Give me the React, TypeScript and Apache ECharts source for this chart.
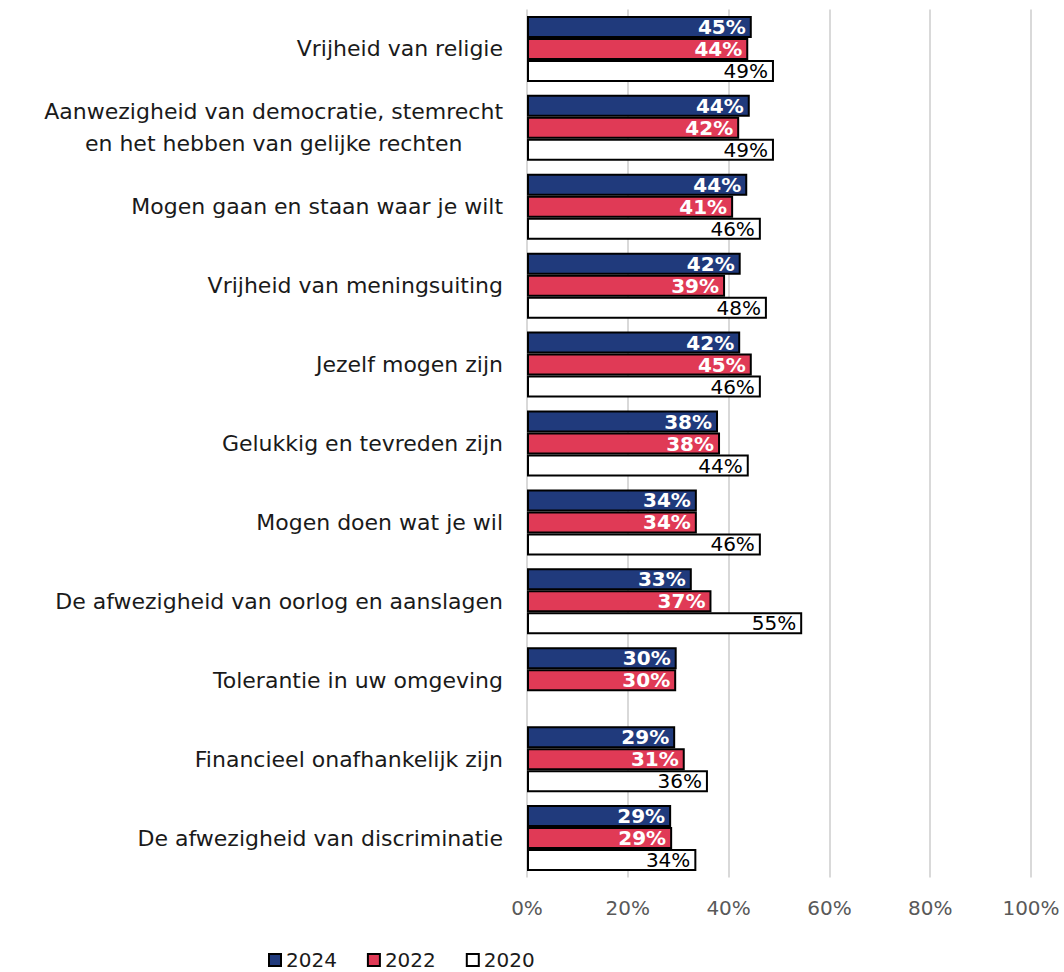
import React, { useEffect, useRef } from "react";
import * as echarts from "echarts";

const categories = [
  "Vrijheid van religie",
  "Aanwezigheid van democratie, stemrecht\nen het hebben van gelijke rechten",
  "Mogen gaan en staan waar je wilt",
  "Vrijheid van meningsuiting",
  "Jezelf mogen zijn",
  "Gelukkig en tevreden zijn",
  "Mogen doen wat je wil",
  "De afwezigheid van oorlog en aanslagen",
  "Tolerantie in uw omgeving",
  "Financieel onafhankelijk zijn",
  "De afwezigheid van discriminatie",
];
const values2024 = [44.6, 44.2, 43.7, 42.4, 42.3, 37.9, 33.7, 32.7, 29.7, 29.4, 28.6];
const values2022 = [43.9, 42.1, 40.9, 39.3, 44.6, 38.3, 33.7, 36.6, 29.6, 31.3, 28.8];
const values2020: (number | null)[] = [49.0, 49.0, 46.4, 47.6, 46.4, 44.0, 46.4, 54.6, null, 35.9, 33.6];
const xTicks = [0, 20, 40, 60, 80, 100];

const FONT = "DejaVu Sans";

export default function App() {
  const ref = useRef<HTMLDivElement>(null);
  useEffect(() => {
    document.body.style.margin = "0";
    const chart = echarts.init(ref.current!, null, { renderer: "svg" });
    const labelFmt = (p: any) => (p.value == null ? "" : Math.round(p.value) + "%");
    const mkSeries = (name: string, data: (number | null)[], color: string, labelColor: string, bold: boolean) => ({
      name,
      type: "bar",
      data: data.map((v) => (v == null ? "-" : v)),
      barWidth: 22,
      barGap: "0%",
      itemStyle: { color, borderColor: "#000", borderWidth: 2 },
      label: {
        show: true,
        position: "insideRight",
        distance: 6,
        formatter: labelFmt,
        color: labelColor,
        fontSize: 20,
        fontWeight: bold ? "bold" : "normal",
        fontFamily: FONT,
      },
    });
    chart.setOption({
      animation: false,
      textStyle: { fontFamily: FONT },
      grid: { left: 527, right: 33, top: 9.5, bottom: 94.5, containLabel: false },
      xAxis: {
        type: "value",
        min: 0,
        max: 100,
        interval: 20,
        axisLine: { show: false },
        axisTick: { show: false },
        splitLine: { show: true, lineStyle: { color: "#d9d9d9", width: 2 } },
        axisLabel: {
          formatter: (v: number) => v + "%",
          color: "#595959",
          fontSize: 20,
          margin: 20,
          fontFamily: FONT,
        },
        data: xTicks,
      },
      yAxis: {
        type: "category",
        inverse: true,
        data: categories,
        axisLine: { show: false },
        axisTick: { show: false },
        axisLabel: {
          margin: 24,
          align: "right",
          formatter: (v: string) => v.split("\n").map((l) => `{a|${l}}`).join("\n"),
          rich: {
            a: { align: "center", fontSize: 22, color: "#1a1a1a", fontFamily: FONT, lineHeight: 32 },
          },
        },
      },
      legend: {
        left: 268,
        top: 950,
        padding: 0,
        icon: "rect",
        itemWidth: 12,
        itemHeight: 12,
        itemGap: 30,
        textStyle: { fontSize: 20, lineHeight: 20, color: "#1a1a1a", fontFamily: FONT },
        data: ["2024", "2022", "2020"],
      },
      series: [
        mkSeries("2024", values2024, "#203a7c", "#ffffff", true),
        mkSeries("2022", values2022, "#e03a56", "#ffffff", true),
        mkSeries("2020", values2020, "#ffffff", "#000000", false),
      ],
    });
    return () => chart.dispose();
  }, []);
  return <div ref={ref} style={{ width: 1064, height: 972, position: "absolute", left: 0, top: 0 }} />;
}
